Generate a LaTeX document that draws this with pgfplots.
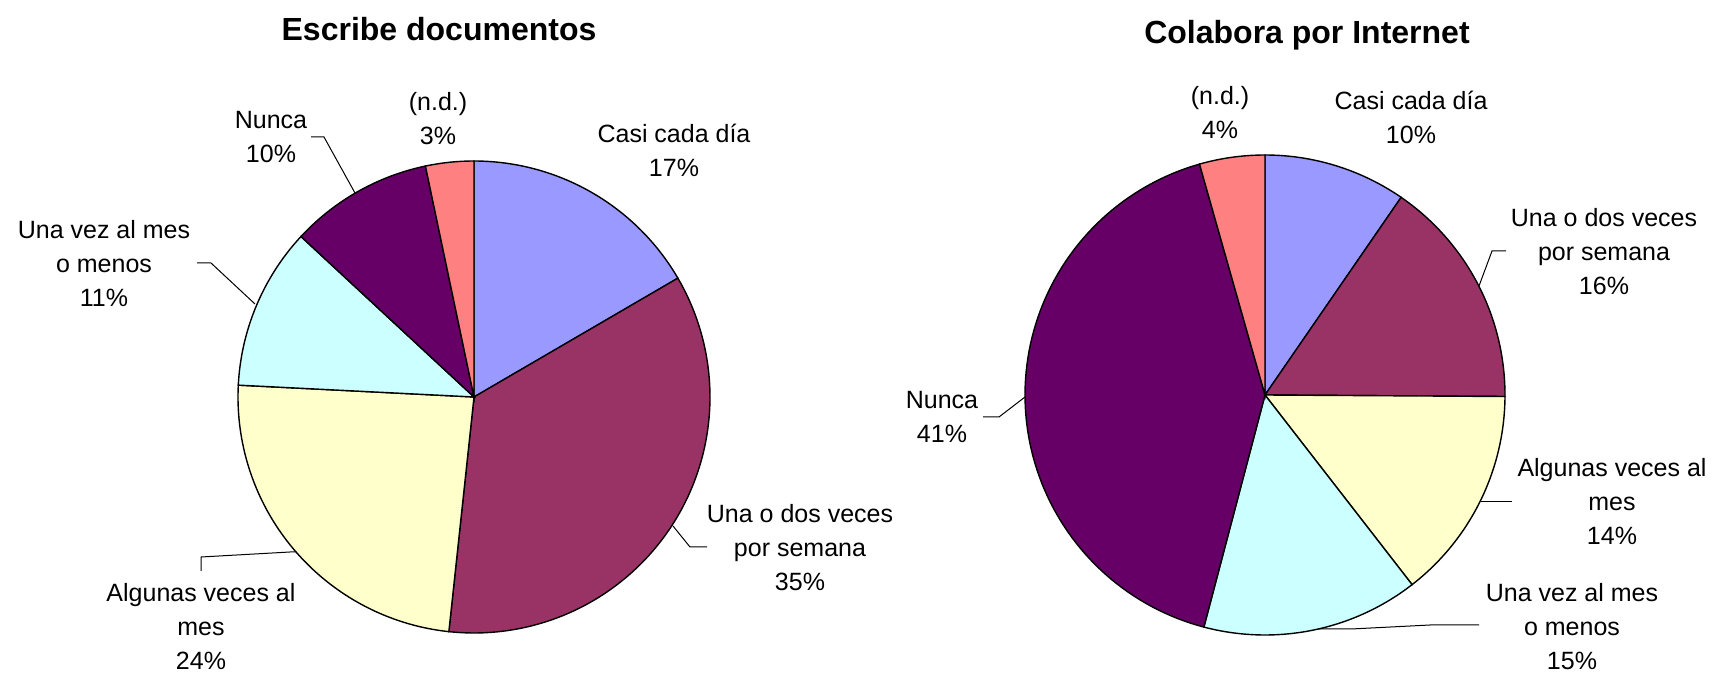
\documentclass[border=0pt]{standalone}
\usepackage{pgfplots}
\pgfplotsset{compat=1.18}
\usepackage{fontspec}
\setmainfont{Liberation Sans}
\definecolor{cCasi}{HTML}{9999FF}
\definecolor{cUna}{HTML}{993366}
\definecolor{cAlg}{HTML}{FFFFCC}
\definecolor{cVez}{HTML}{CCFFFF}
\definecolor{cNun}{HTML}{660066}
\definecolor{cND}{HTML}{FF8080}
\newcommand\slCum{0}
% #1 cx, #2 cy, #3 r, #4 value (percent), #5 colour
\newcommand{\pieslice}[5]{%
  \pgfmathsetmacro{\slA}{\slCum}%
  \pgfmathsetmacro{\slB}{\slCum+#4}%
  \edef\doslice{\noexpand\addplot[draw=black, line width=0.7pt, fill=#5, domain=\slA:\slB, samples=90]
    ({#1+#3*sin(3.6*x)}, {#2-#3*cos(3.6*x)}) -- (axis cs:#1,#2) -- cycle;}%
  \doslice
  \xdef\slCum{\slB}%
}
\tikzset{lbl/.style={align=center, inner sep=0pt, font=\fontsize{12.5}{17}\selectfont},
  ttl/.style={anchor=base, inner sep=0pt, font=\fontsize{16}{19}\selectfont\bfseries}}
\begin{document}
\begin{tikzpicture}
\useasboundingbox (0,0) rectangle (857.5pt,336.5pt);
\begin{axis}[at={(0,0)}, anchor=south west, scale only axis,
  width=857.5pt, height=336.5pt, xmin=0, xmax=1715, ymin=0, ymax=673,
  y dir=reverse, hide axis, clip=false]
% ---- Escribe documentos ----
\gdef\slCum{0}
\pieslice{474}{397}{236}{16.6}{cCasi}
\pieslice{474}{397}{236}{35.1}{cUna}
\pieslice{474}{397}{236}{24.1}{cAlg}
\pieslice{474}{397}{236}{11.1}{cVez}
\pieslice{474}{397}{236}{9.8}{cNun}
\pieslice{474}{397}{236}{3.3}{cND}
% ---- Colabora por Internet ----
\gdef\slCum{0}
\pieslice{1265}{395}{240}{9.6}{cCasi}
\pieslice{1265}{395}{240}{15.5}{cUna}
\pieslice{1265}{395}{240}{14.4}{cAlg}
\pieslice{1265}{395}{240}{14.6}{cVez}
\pieslice{1265}{395}{240}{41.5}{cNun}
\pieslice{1265}{395}{240}{4.4}{cND}
% leader lines
\addplot[black, line width=0.5pt] coordinates {(311,137) (324,137) (355,193)};
\addplot[black, line width=0.5pt] coordinates {(197,263) (211,263) (255,304)};
\addplot[black, line width=0.5pt] coordinates {(201,571) (201,557) (290,552) (296,552)};
\addplot[black, line width=0.5pt] coordinates {(707,547) (690,547) (673,526)};
\addplot[black, line width=0.5pt] coordinates {(1506,251) (1492,251) (1479,286)};
\addplot[black, line width=0.5pt] coordinates {(983,417) (999,417) (1025,397)};
\addplot[black, line width=0.5pt] coordinates {(1512,502) (1481,502)};
\addplot[black, line width=0.5pt] coordinates {(1479,625) (1430,625) (1351,629) (1318,629)};
% titles
\node[ttl] at (axis cs:439,41) {Escribe documentos};
\node[ttl] at (axis cs:1307,44) {Colabora por Internet};
% labels left
\node[lbl] at (axis cs:438,119) {(n.d.)\\3\%};
\node[lbl] at (axis cs:271,137) {Nunca\\10\%};
\node[lbl] at (axis cs:674,150) {Casi cada día\\17\%};
\node[lbl] at (axis cs:104,264) {Una vez al mes\\o menos\\11\%};
\node[lbl] at (axis cs:800,548) {Una o dos veces\\por semana\\35\%};
\node[lbl] at (axis cs:201,627) {Algunas veces al\\mes\\24\%};
% labels right
\node[lbl] at (axis cs:1220,113) {(n.d.)\\4\%};
\node[lbl] at (axis cs:1411,117) {Casi cada día\\10\%};
\node[lbl] at (axis cs:1604,252) {Una o dos veces\\por semana\\16\%};
\node[lbl] at (axis cs:942,417) {Nunca\\41\%};
\node[lbl] at (axis cs:1612,502) {Algunas veces al\\mes\\14\%};
\node[lbl] at (axis cs:1572,627) {Una vez al mes\\o menos\\15\%};
\end{axis}
\end{tikzpicture}
\end{document}
